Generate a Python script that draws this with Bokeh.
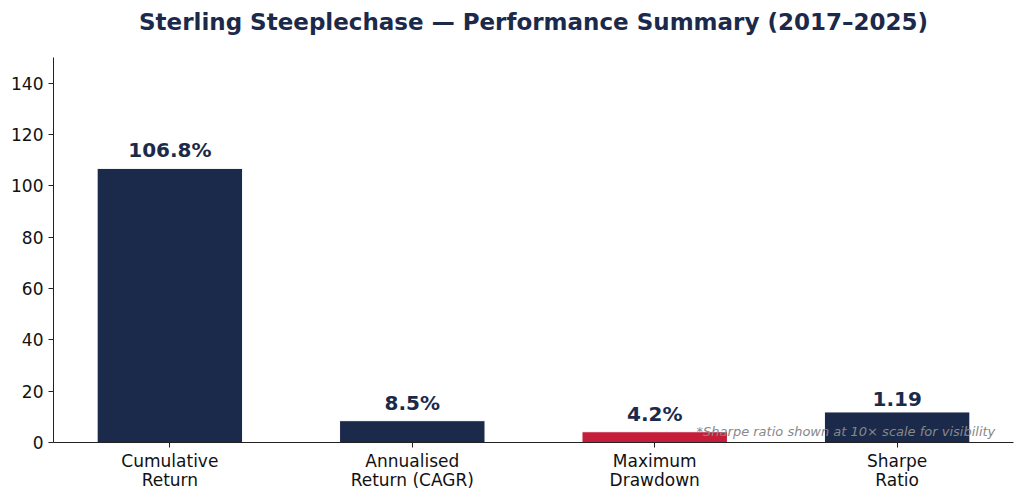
from bokeh.plotting import figure
from bokeh.models import Range1d, FixedTicker, ColumnDataSource, Label, Title
from bokeh.embed import file_html
from bokeh.resources import INLINE
from bokeh.core.properties import value

title = "Sterling Steeplechase \u2014 Performance Summary (2017\u20132025)"
categories = ["Cumulative\nReturn", "Annualised\nReturn (CAGR)", "Maximum\nDrawdown", "Sharpe\nRatio"]
values = [106.8, 8.5, 4.2, 11.9]
labels = ["106.8%", "8.5%", "4.2%", "1.19"]
colors = ["#1b2a4a", "#1b2a4a", "#c41e3a", "#1b2a4a"]
yticks = [0, 20, 40, 60, 80, 100, 120, 140]

xs = list(range(len(categories)))
src = ColumnDataSource(dict(x=xs, top=values, color=colors, label=labels))

p = figure(width=1016, height=492, output_backend="svg", toolbar_location=None,
           x_range=Range1d(-0.48, 3.48), y_range=Range1d(0, 150),
           min_border_left=53, min_border_right=3, min_border_top=57, min_border_bottom=49)
p.title.text = title
p.title.align = "center"
p.title.text_font = "DejaVu Sans"
p.title.text_font_size = "23px"
p.title.text_color = "#1b2a4a"
p.title.text_font_style = "bold"
p.title.standoff = 0

# blank spacer between the title and the plot area
p.add_layout(Title(text=" ", text_font_size="19px", standoff=0), "above")

p.vbar(x="x", top="top", width=0.6, bottom=0, color="color", line_color="white", line_width=1, source=src)
p.text(x="x", y="top", text="label", source=src, text_align="center", text_baseline="bottom",
       y_offset=-6,
       text_font=value("DejaVu Sans"), text_font_style="bold", text_font_size="20px", text_color="#1b2a4a")

note = Label(x=3.405, y=4.3, text="*Sharpe ratio shown at 10\u00d7 scale for visibility",
             text_align="right", text_baseline="middle", text_font="DejaVu Sans",
             text_font_style="italic", text_font_size="13px", text_color="#888888")
p.add_layout(note)

p.xgrid.visible = False
p.ygrid.visible = False
p.outline_line_color = None

p.xaxis.ticker = FixedTicker(ticks=xs)
p.xaxis.major_label_overrides = {i: c for i, c in enumerate(categories)}
p.yaxis.ticker = FixedTicker(ticks=yticks)
for ax in (p.xaxis, p.yaxis):
    ax.axis_line_color = "#222222"
    ax.major_tick_line_color = "#222222"
    ax.major_tick_out = 5
    ax.major_tick_in = 0
    ax.minor_tick_line_color = None
    ax.major_label_text_font = "DejaVu Sans"
    ax.major_label_text_font_size = "17px"
    ax.major_label_text_color = "#111111"
p.xaxis.major_label_text_line_height = 0.95
p.xaxis.major_label_standoff = 3
p.yaxis.major_label_standoff = 5

open("out.html", "w").write(file_html(p, INLINE))
